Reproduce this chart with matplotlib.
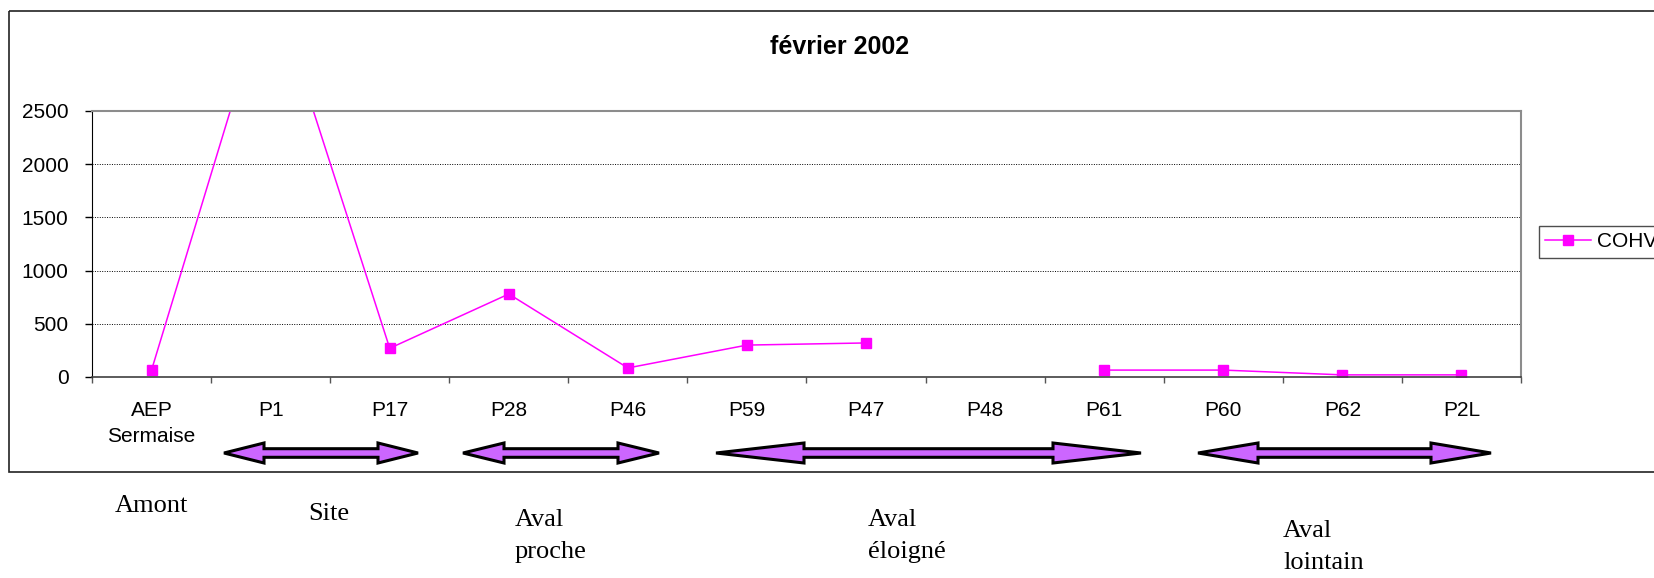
import numpy as np
import matplotlib
matplotlib.use("Agg")
import matplotlib.pyplot as plt
import matplotlib.transforms as mtransforms
from matplotlib.patches import Polygon, Rectangle
from matplotlib.lines import Line2D

# data (P1 is off the scale, P48 has no value)
stations = ['AEP\nSermaise', 'P1', 'P17', 'P28', 'P46', 'P59',
            'P47', 'P48', 'P61', 'P60', 'P62', 'P2L']
cohv = [65, 3750, 270, 780, 85, 300, 320, np.nan, 65, 65, 20, 20]
y_ticks = [0, 500, 1000, 1500, 2000, 2500]

# zone labels under the chart
zones = ['Amont', 'Site', 'Aval\nproche', 'Aval\néloigné', 'Aval\nlointain']

W, H = 1654, 578
fig = plt.figure(figsize=(W / 100, H / 100), dpi=100)
# pixel coordinates (origin top-left) for the decorations
px = mtransforms.Affine2D().scale(1 / W, -1 / H).translate(0, 1) + fig.transFigure

left, right, top, bottom = 92, 1521, 111, 377
ax = fig.add_axes([left / W, 1 - bottom / H, (right - left) / W, (bottom - top) / H])

x = np.arange(len(stations))
ax.plot(x, cohv, color='#FF00FF', lw=1.1, marker='s', markersize=7,
        markeredgecolor='#FF00FF', label='COHV')

ax.set_xlim(-0.5, len(stations) - 0.5)
ax.set_ylim(0, 2500)
ax.set_yticks(y_ticks)
ax.set_xticks(x)
ax.set_xticklabels(stations, fontsize=15, family='Liberation Sans', linespacing=1.5)
ax.set_xticks(np.arange(len(stations) + 1) - 0.5, minor=True)
ax.tick_params(axis='x', which='major', length=0, pad=17)
ax.tick_params(axis='x', which='minor', length=4.5, color='#555555', width=1)
ax.tick_params(axis='y', length=5, width=1, pad=12, labelsize=15)
for lab in ax.get_yticklabels():
    lab.set_family('Liberation Sans')

ax.yaxis.grid(True, color='black', linestyle=(0, (1, 1.5)), lw=0.7)
ax.set_axisbelow(True)
ax.spines['left'].set_color('black')
ax.spines['bottom'].set_color('#404040')
ax.spines['bottom'].set_linewidth(1.2)
for s in ['top', 'right']:
    ax.spines[s].set_color('#8c8c8c')
    ax.spines[s].set_linewidth(1.5)

# title
fig.text(840, 47, 'février 2002', transform=px, ha='center', va='center',
         fontsize=18, fontweight='bold', family='Liberation Sans')

# legend, cut by the right edge as in the original
leg = fig.legend(handles=[Line2D([], [], color='#FF00FF', lw=1.1, marker='s',
                                 markersize=7, label='COHV')],
                 loc='upper left', bbox_to_anchor=(1539 / W, 1 - 226 / H),
                 bbox_transform=fig.transFigure, fancybox=False, shadow=False,
                 borderpad=0.3, handlelength=2.2, handletextpad=0.3,
                 borderaxespad=0, prop={'family': 'Liberation Sans', 'size': 15})
leg.get_frame().set_edgecolor('#222222')
leg.get_frame().set_linewidth(1.0)

# outer chart frame (right side is outside the picture)
fig.patches.append(Rectangle((9, 11), 1800, 461, transform=px, fill=False,
                             edgecolor='#222222', lw=1.2))

# double arrows marking the zones: (left tip, right tip, head length) in px
arrows = [(224, 418, 40), (463, 659, 41), (716, 1141, 88), (1198, 1491, 60)]
yc, hh, sh = 453, 10, 4.3
for x0, x1, hl in arrows:
    pts = [(x0, yc), (x0 + hl, yc - hh), (x0 + hl, yc - sh), (x1 - hl, yc - sh),
           (x1 - hl, yc - hh), (x1, yc), (x1 - hl, yc + hh), (x1 - hl, yc + sh),
           (x0 + hl, yc + sh), (x0 + hl, yc + hh)]
    fig.patches.append(Polygon(pts, closed=True, transform=px, facecolor='#CC66FF',
                               edgecolor='black', lw=2.2, joinstyle='miter'))

# zone labels (Times-like serif), one text per line, 32 px apart
zone_pos = [(115, 506), (308, 514), (515, 520), (868, 520), (1283, 531)]
for txt, (tx, ty) in zip(zones, zone_pos):
    for k, line in enumerate(txt.split('\n')):
        fig.text(tx, ty + 32 * k, line, transform=px, ha='left', va='center',
                 fontsize=19, family='Liberation Serif')

fig.savefig('out.png', dpi=100)
